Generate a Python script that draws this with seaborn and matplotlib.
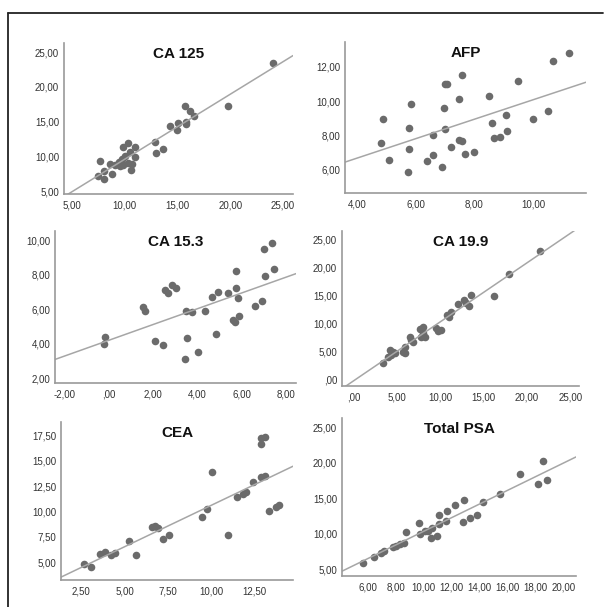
import numpy as np
import matplotlib
matplotlib.use("Agg")
from matplotlib import pyplot as plt
from matplotlib.lines import Line2D
from matplotlib.ticker import FuncFormatter
import seaborn as sns

sns.set_style("white")
plt.rcParams['font.family'] = ['Liberation Sans', 'DejaVu Sans']

# values
ca125_x = [24.1, 19.8, 15.7, 16.15, 16.56, 15.77, 15.77, 15.08, 14.32, 14.98, 12.87, 12.94, 13.6,
           10.29, 9.79, 10.98, 10.54, 10.04, 10.98, 9.72, 9.41, 10.35, 10.67, 9.88, 9.1, 9.57,
           10.6, 7.68, 8.56, 7.99, 8.75, 7.43, 7.99]
ca125_y = [23.4, 17.3, 17.3, 16.46, 15.74, 14.93, 14.6, 14.78, 14.3, 13.83, 12.05, 10.47, 11.1,
           11.9, 11.4, 11.3, 10.6, 9.99, 9.9, 9.65, 9.17, 9.08, 8.84, 8.79, 8.79, 8.55,
           8.07, 9.27, 8.84, 7.88, 7.49, 7.11, 6.68]

afp_x = [11.21, 10.66, 9.47, 10.51, 10.0, 9.07, 9.12, 8.88, 8.67, 8.59, 8.49, 7.58, 7.49, 7.0, 7.06,
         6.97, 7.0, 7.49, 7.59, 7.2, 7.69, 7.98, 6.6, 6.6, 6.89, 6.4, 5.85, 5.78, 5.77, 5.73,
         4.88, 4.83, 5.08]
afp_y = [12.83, 12.33, 11.19, 9.43, 8.95, 9.2, 8.29, 7.92, 7.86, 8.74, 10.32, 11.5, 10.1, 11.0, 11.0,
         9.6, 8.4, 7.72, 7.67, 7.32, 6.94, 7.05, 8.05, 6.88, 6.18, 6.53, 9.85, 8.46, 7.24, 5.89,
         8.95, 7.55, 6.57]

ca153_x = [7.38, 7.0, 7.46, 7.06, 5.74, 5.72, 5.81, 5.39, 4.94, 4.65, 6.9, 6.61, 4.35, 3.73, 3.48,
           5.62, 5.7, 5.86, 4.82, 3.52, 4.0, 3.42, 2.09, 2.43, 2.51, 2.67, 2.85, 3.02, 1.54, 1.64,
           -0.21, -0.24]
ca153_y = [9.86, 9.48, 8.35, 7.93, 8.2, 7.25, 6.65, 6.92, 7.02, 6.73, 6.47, 6.16, 5.88, 5.83, 5.89,
           5.35, 5.23, 5.6, 4.53, 4.34, 3.51, 3.1, 4.13, 3.9, 7.09, 6.93, 7.38, 7.22, 6.12, 5.87,
           4.36, 3.95]

ca199_x = [21.5, 17.9, 16.2, 13.58, 12.73, 13.0, 13.35, 12.0, 11.27, 10.8, 10.96, 10.1, 9.73, 9.54,
           8.0, 7.7, 8.0, 7.8, 8.19, 6.46, 6.65, 6.85, 5.88, 5.69, 5.88, 4.15, 4.54, 4.35, 3.96,
           3.38, 4.73]
ca199_y = [22.98, 18.8, 14.94, 15.06, 14.17, 13.57, 13.1, 13.45, 12.08, 11.49, 11.07, 8.81, 8.69, 9.1,
           9.4, 8.93, 8.33, 7.62, 7.62, 7.62, 7.02, 6.73, 5.83, 4.94, 4.64, 5.24, 4.94, 4.35, 4.05,
           2.86, 4.64]

cea_x = [13.07, 12.88, 12.84, 10.05, 13.11, 12.88, 12.4, 11.98, 11.83, 11.5, 13.9, 13.7, 13.32, 9.74,
         9.47, 10.97, 6.94, 6.77, 6.6, 7.56, 7.23, 5.22, 5.66, 4.45, 4.22, 3.84, 3.59, 2.63, 3.06]
cea_y = [17.34, 17.2, 16.68, 13.9, 13.54, 13.38, 12.88, 11.9, 11.73, 11.4, 10.6, 10.44, 10.01, 10.25,
         9.43, 7.66, 8.43, 8.59, 8.49, 7.7, 7.31, 7.14, 5.77, 5.93, 5.73, 6.06, 5.83, 4.85, 4.52]

psa_x = [18.56, 16.89, 18.8, 18.15, 15.45, 14.25, 12.89, 12.22, 11.67, 11.1, 13.82, 13.3, 12.83, 11.57,
         11.1, 10.62, 10.11, 10.31, 9.64, 9.76, 8.75, 10.55, 10.95, 8.56, 8.32, 8.03, 7.79, 7.2,
         6.96, 6.48, 5.64]
psa_y = [20.28, 18.35, 17.56, 16.95, 15.6, 14.43, 14.76, 14.06, 13.26, 12.65, 12.65, 12.18, 11.67, 11.85,
         11.34, 10.77, 10.45, 10.45, 11.48, 10.0, 10.26, 9.48, 9.76, 8.76, 8.66, 8.29, 8.19, 7.63,
         7.39, 6.78, 5.98]

titles = ["CA 125", "AFP", "CA 15.3", "CA 19.9", "CEA", "Total PSA"]
xs = [ca125_x, afp_x, ca153_x, ca199_x, cea_x, psa_x]
ys = [ca125_y, afp_y, ca153_y, ca199_y, cea_y, psa_y]
xticks = [[5, 10, 15, 20, 25], [4, 6, 8, 10], [-2, 0, 2, 4, 6, 8],
          [0, 5, 10, 15, 20, 25], [2.5, 5, 7.5, 10, 12.5], [6, 8, 10, 12, 14, 16, 18, 20]]
yticks = [[5, 10, 15, 20, 25], [6, 8, 10, 12], [2, 4, 6, 8, 10],
          [0, 5, 10, 15, 20, 25], [5, 7.5, 10, 12.5, 15, 17.5], [5, 10, 15, 20, 25]]
xlims = [(4.24, 25.95), (3.6, 11.79), (-2.45, 8.45), (-1.35, 26.0), (1.33, 14.7), (4.16, 20.9)]
ylims = [(4.57, 26.3), (4.65, 13.45), (1.71, 10.54), (-1.2, 26.5), (3.27, 18.8), (4.1, 26.27)]

# axes boxes in pixels: left, right, top, bottom
W, H = 606, 607
boxes = [(64, 293, 43, 194), (345, 586, 42, 193), (55, 296, 231, 383),
         (342, 579, 231, 386), (61, 293, 422, 580), (342, 576, 418, 576)]


def fmt(v, pos):
    s = f"{v:.2f}".replace('.', ',')
    if s.startswith("0,"):
        s = s[1:]
    return s


fig = plt.figure(figsize=(W / 100, H / 100), dpi=100)

for i in range(6):
    l, r, t, b = boxes[i]
    ax = fig.add_axes([l / W, 1 - b / H, (r - l) / W, (b - t) / H])
    ax.set_xlim(*xlims[i])
    sns.regplot(x=np.array(xs[i]), y=np.array(ys[i]), ax=ax, ci=None, truncate=False,
                scatter_kws={'s': 30, 'color': '#6b6b6b', 'alpha': 1, 'linewidths': 0},
                line_kws={'color': '#a6a6a6', 'lw': 1.1})
    ax.set_xlim(*xlims[i])
    ax.set_ylim(*ylims[i])
    ax.set_xticks(xticks[i])
    ax.set_yticks(yticks[i])
    ax.xaxis.set_major_formatter(FuncFormatter(fmt))
    ax.yaxis.set_major_formatter(FuncFormatter(fmt))
    ax.tick_params(axis='x', length=0, labelsize=7, colors='#333333', pad=5)
    ax.tick_params(axis='y', length=0, labelsize=7, colors='#333333', pad=3.5)
    sns.despine(ax=ax)
    for sp in ['left', 'bottom']:
        ax.spines[sp].set_color('#9a9a9a')
        ax.spines[sp].set_linewidth(1.2)
    ax.text(0.5, 0.93, titles[i], transform=ax.transAxes, ha='center', va='center',
            fontsize=11, fontweight='bold', color='#111111')
    ax.set_xlabel('')
    ax.set_ylabel('')

# outer frame (top and left edges only)
fig.add_artist(Line2D([8 / W, 603 / W], [1 - 13 / H, 1 - 13 / H], transform=fig.transFigure,
                      color='#222222', lw=1.3))
fig.add_artist(Line2D([8 / W, 8 / W], [1 - 13 / H, 0], transform=fig.transFigure,
                      color='#222222', lw=1.3))

fig.savefig("out.png", dpi=100)
